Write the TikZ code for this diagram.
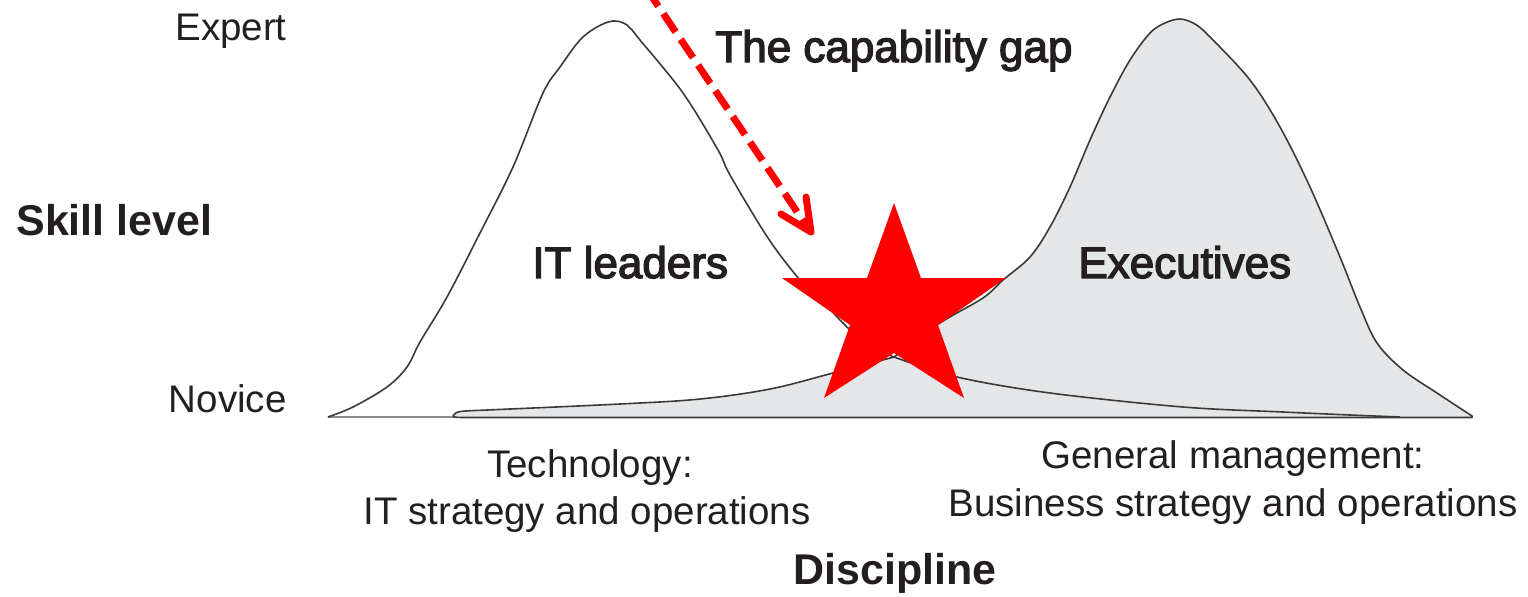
\documentclass[tikz,border=0pt]{standalone}
\usepackage{fontspec}
\setmainfont{Liberation Sans}
\newfontfamily\medfont[FakeBold=3]{Liberation Sans}
\definecolor{ink}{HTML}{231F20}
\definecolor{outline}{HTML}{3A3A3A}
\definecolor{execgray}{HTML}{E5E6E7}
\definecolor{basegray}{HTML}{8C8C8C}
\definecolor{starred}{HTML}{FF0000}
\begin{document}
\begin{tikzpicture}[x=0.5pt,y=-0.5pt,
  axislabel/.style={font=\fontsize{19.25}{23}\selectfont, text=ink, inner sep=0pt},
  grouplabel/.style={font=\medfont\fontsize{22}{26}\selectfont, text=ink, inner sep=0pt},
  titlelabel/.style={font=\bfseries\fontsize{21.5}{26}\selectfont, text=ink, inner sep=0pt},
  curve/.style={draw=outline, line width=0.8pt, line join=round},
  execshape/.style={curve, fill=execgray},
  baseline/.style={draw=basegray, line width=1.1pt},
  gaparrow/.style={draw=starred, line width=3.5pt, dash pattern=on 11pt off 4.5pt},
  gaphead/.style={draw=starred, line width=3.5pt, line cap=round, line join=round},
  starshape/.style={fill=starred}]
\useasboundingbox (0,0) rectangle (1528,596);
\clip (0,0) rectangle (1528,596);

% axis base line
\coordinate (axisL) at (328,417);
\coordinate (axisR) at (1472,417);
\draw[baseline] (axisL) -- (axisR);

% Executives distribution
\path[execshape] (453,416) -- plot[smooth, tension=0.6] coordinates {(453,416) (458,412) (472,410.6) (487,410) (620,404) (700,399) (770,389) (833,373) (894,357)}
  -- plot[smooth, tension=0.55] coordinates {(894,357) (940,323) (983,298) (1003,280) (1030,257) (1050,227) (1070,187) (1090,140) (1110,97) (1130,60) (1150,33) (1165,23) (1180,19) (1195,24) (1210,37) (1250,80) (1280,127) (1310,187) (1340,257) (1360,307) (1377,343) (1403,370) (1437,393) (1472,416)}
  -- (1472,417.5) -- (472,417.5) .. controls (458,417.5) and (453,417.5) .. cycle;

% IT leaders distribution
\path[curve] plot[smooth, tension=0.55] coordinates {(328,417) (353,407) (387,387) (407,367) (420,342) (447,297) (480,233) (513,167) (543,93) (560,67) (580,40) (597,27) (613,21) (627,25) (640,40) (683,93) (718,150) (730,175) (768,238) (800,280) (823,302) (850,330) (872,347) (894,357)}
  -- plot[smooth, tension=0.55] coordinates {(894,357) (957,377) (1050,393) (1183,407) (1283,412) (1350,415) (1400,417)};

% star
\fill[starshape] (894,203) -- (921,278) -- (1006,278) -- (938,325) -- (964,398) -- (894,353) -- (824,398) -- (850,325) -- (782,278) -- (867,278) -- cycle;

% capability gap arrow
\coordinate (gapstart) at (646,-12);
\coordinate (gapend) at (808,228);
\coordinate (gaptip) at (811,232);
\coordinate (gapwingA) at (781,214);
\coordinate (gapwingB) at (806,197);
\draw[gaparrow] (gapstart) -- (gapend);
\draw[gaphead] (gapwingA) -- (gaptip) -- (gapwingB);

% labels
\node[axislabel, anchor=base east] (expert) at (287,40) {Expert};
\node[axislabel, anchor=base east] (novice) at (287,412) {Novice};
\node[titlelabel, anchor=base west] (skill) at (16,235) {Skill level};
\node[grouplabel, anchor=base west] (gap) at (715,62) {The capability gap};
\node[grouplabel, anchor=base west] (itl) at (532,278) {IT leaders};
\node[grouplabel, anchor=base west] (exe) at (1078,278) {Executives};
\node[axislabel, anchor=base] (tech1) at (590,477) {Technology:};
\node[axislabel, anchor=base] (tech2) at (587,524) {IT strategy and operations};
\node[axislabel, anchor=base] (gen1) at (1233,468) {General management:};
\node[axislabel, anchor=base] (gen2) at (1233,516) {Business strategy and operations};
\node[titlelabel, anchor=base] (disc) at (895,584) {Discipline};
\end{tikzpicture}
\end{document}
